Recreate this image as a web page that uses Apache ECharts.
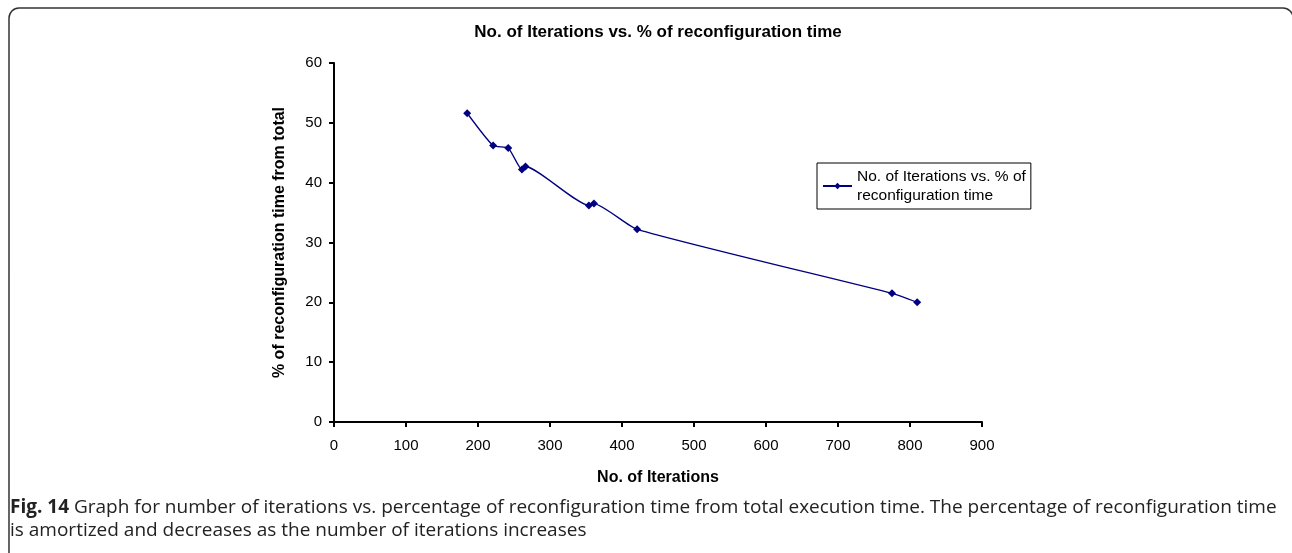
<!DOCTYPE html>
<html>
<head>
<meta charset="utf-8">
<script src="https://cdn.jsdelivr.net/npm/echarts@6/dist/echarts.min.js"></script>
<style>
  html, body { margin: 0; padding: 0; background: #fff; }
  #chart { width: 1292px; height: 553px; }
</style>
</head>
<body>
<div id="chart"></div>
<script>
// data
const iterations = [185, 221, 242, 261, 266, 354, 361, 421, 775, 810];
const reconfigPct = [51.6, 46.2, 45.8, 42.2, 42.7, 36.2, 36.5, 32.2, 21.5, 20.0];
const xTicks = [0, 100, 200, 300, 400, 500, 600, 700, 800, 900];
const yTicks = [0, 10, 20, 30, 40, 50, 60];

const seriesName = 'No. of Iterations vs. % of reconfiguration time';
const fontFamily = "'Liberation Sans', Arial, sans-serif";
const captionFont = "'Open Sans', 'Noto Sans', sans-serif";

const chart = echarts.init(document.getElementById('chart'));

const option = {
  backgroundColor: '#fff',
  animation: false,
  textStyle: { fontFamily: fontFamily, color: '#000' },
  grid: { left: 334, right: 310, top: 63, bottom: 131 },
  legend: {
    left: 817,
    top: 163,
    orient: 'vertical',
    borderColor: '#000',
    borderWidth: 1,
    borderRadius: 0,
    padding: [4, 5, 4, 5],
    itemWidth: 29,
    itemHeight: 8,
    itemGap: 4,
    formatter: () => 'No. of Iterations vs. % of\nreconfiguration time',
    textStyle: { fontSize: 15.5, color: '#000', lineHeight: 19, fontFamily: fontFamily },
    data: [seriesName],
  },
  xAxis: {
    type: 'value',
    min: xTicks[0],
    max: xTicks[xTicks.length - 1],
    interval: 100,
    name: 'No. of Iterations',
    nameLocation: 'middle',
    nameGap: 48,
    nameTextStyle: { fontSize: 16, fontWeight: 'bold', color: '#000' },
    axisLine: { lineStyle: { color: '#000', width: 2 } },
    axisTick: { show: true, length: 5, lineStyle: { color: '#000', width: 2 } },
    axisLabel: { fontSize: 15, color: '#000', margin: 16 },
    splitLine: { show: false },
  },
  yAxis: {
    type: 'value',
    min: yTicks[0],
    max: yTicks[yTicks.length - 1],
    interval: 10,
    name: '% of reconfiguration time from total',
    nameLocation: 'middle',
    nameGap: 46,
    nameTextStyle: { fontSize: 16, fontWeight: 'bold', color: '#000' },
    axisLine: { show: true, lineStyle: { color: '#000', width: 2 } },
    axisTick: { show: true, length: 5, lineStyle: { color: '#000', width: 2 } },
    axisLabel: { fontSize: 15, color: '#000', margin: 12 },
    splitLine: { show: false },
  },
  series: [
    {
      name: seriesName,
      type: 'line',
      data: iterations.map((x, i) => [x, reconfigPct[i]]),
      smooth: 0.18,
      symbol: 'diamond',
      symbolSize: 8,
      itemStyle: { color: '#000080' },
      lineStyle: { color: '#000080', width: 1.3 },
    },
  ],
  graphic: [
    {
      type: 'rect',
      shape: { x: 9, y: 8, width: 1284, height: 620, r: 10 },
      style: { fill: 'none', stroke: '#333', lineWidth: 1.5 },
      silent: true,
    },
    {
      type: 'text',
      x: 658,
      y: 32,
      style: {
        text: 'No. of Iterations vs. % of reconfiguration time',
        font: 'bold 17px ' + fontFamily,
        fill: '#000',
        align: 'center',
        verticalAlign: 'middle',
      },
    },
    {
      type: 'text',
      left: 10,
      top: 496,
      style: {
        text: '{b|Fig. 14} Graph for number of iterations vs. percentage of reconfiguration time from total execution time. The percentage of reconfiguration time\nis amortized and decreases as the number of iterations increases',
        font: '19px ' + captionFont,
        fill: '#222',
        lineHeight: 23,
        rich: {
          b: { fontWeight: 'bold', fontSize: 19, fontFamily: captionFont, fill: '#222', lineHeight: 23 },
        },
      },
    },
  ],
};

chart.setOption(option);
window.addEventListener('resize', () => chart.resize());
</script>
</body>
</html>
